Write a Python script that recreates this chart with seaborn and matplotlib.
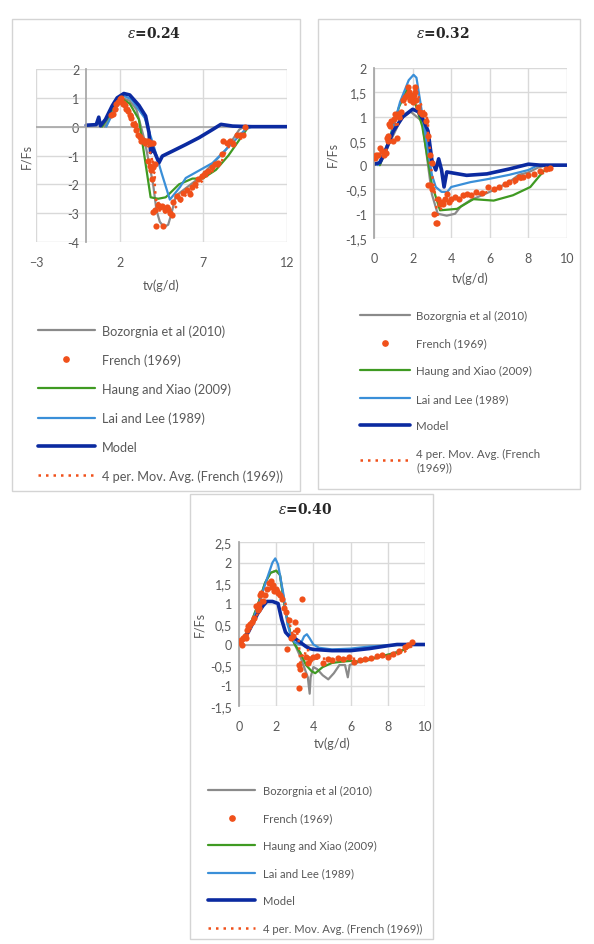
import numpy as np
import pandas as pd
import seaborn as sns
import matplotlib
matplotlib.use("Agg")
import matplotlib.pyplot as plt
from matplotlib.lines import Line2D
from matplotlib.patches import Rectangle
from matplotlib.ticker import FuncFormatter

# ---------------- eps = 0.24 ----------------
t1_model = [0.0, 0.6, 0.75, 0.85, 1.15, 1.55, 1.85, 2.25, 2.6, 3.15, 3.55, 3.75, 3.85, 3.95, 4.35, 4.55,
            5.15, 5.95, 6.75, 7.55, 8.05, 8.75, 9.9, 12.0]
f1_model = [0.05, 0.07, 0.33, 0.03, 0.25, 0.72, 1.0, 1.15, 1.1, 0.74, 0.37, -0.2, -0.9, -0.7, -1.25, -1.02,
            -0.85, -0.62, -0.38, -0.1, 0.08, 0.02, 0.0, 0.0]
t1_green = [0.95, 1.4, 1.85, 2.1, 2.6, 3.15, 3.5, 3.85, 4.3, 4.75, 5.55, 6.35, 6.95, 7.75, 8.5, 9.1, 9.7]
f1_green = [0.0, 0.4, 0.95, 0.98, 0.8, 0.25, -1.1, -2.45, -2.5, -2.45, -2.0, -1.8, -1.8, -1.5, -1.0, -0.5, 0.0]
t1_lai = [1.2, 1.7, 2.2, 2.7, 3.5, 4.0, 4.5, 5.0, 5.6, 5.95, 7.55, 8.75, 9.5, 9.9, 12.0]
f1_lai = [0.0, 0.6, 1.08, 0.95, 0.3, -0.6, -1.6, -2.53, -2.1, -1.78, -1.26, -0.56, -0.1, 0.0, 0.0]
t1_boz = [1.1, 1.6, 2.1, 2.6, 3.0, 3.5, 4.0, 4.2, 4.4, 4.65, 4.9, 5.1, 5.35, 6.75, 8.35, 9.15, 9.45]
f1_boz = [0.0, 0.5, 1.0, 0.9, 0.6, -0.5, -2.0, -2.9, -3.3, -3.48, -3.4, -3.0, -2.4, -1.78, -0.8, -0.1, 0.0]
t1_french = [1.5, 1.6, 1.7, 1.8, 1.9, 2.0, 2.05, 2.1, 2.2, 2.3, 2.4, 2.5, 2.6, 2.7, 2.8, 2.9, 3.0, 3.1,
             3.2, 3.3, 3.4, 3.5, 3.6, 3.7, 3.8, 3.9, 4.0, 3.7, 3.8, 3.9, 4.0, 4.1, 3.95, 4.0, 4.1, 4.2,
             4.3, 4.4, 4.5, 4.6, 4.7, 4.8, 4.9, 5.0, 5.1, 5.2, 5.4, 5.6, 5.8, 6.0, 6.2, 6.3, 6.5, 6.7,
             6.9, 7.1, 7.3, 7.5, 7.7, 7.9, 8.1, 8.2, 8.4, 8.6, 8.8, 9.0, 9.2, 9.4, 9.5]
f1_french = [0.4, 0.45, 0.6, 0.8, 0.85, 0.95, 1.0, 0.9, 0.8, 0.75, 0.6, 0.55, 0.4, 0.3, 0.1, 0.05, -0.1,
             -0.3, -0.35, -0.5, -0.45, -0.55, -0.5, -0.5, -0.55, -0.55, -0.55, -1.2, -1.35, -1.5, -1.4,
             -1.3, -1.8, -2.95, -2.9, -3.45, -2.7, -2.8, -2.75, -3.45, -2.9, -2.8, -2.85, -3.0, -3.05,
             -2.6, -2.4, -2.5, -2.3, -2.2, -2.35, -2.1, -2.0, -1.8, -1.7, -1.6, -1.55, -1.4, -1.3,
             -1.25, -0.95, -0.5, -0.55, -0.5, -0.6, -0.3, -0.3, -0.3, 0.0]

# ---------------- eps = 0.32 ----------------
t2_model = [0.0, 0.3, 0.5, 1.0, 1.5, 2.0, 2.3, 2.6, 2.8, 3.0, 3.2, 3.35, 3.5, 3.63, 3.77, 4.8, 5.85,
            7.0, 8.0, 8.6, 10.0]
f2_model = [0.02, 0.05, 0.2, 0.7, 1.0, 1.15, 1.1, 0.9, 0.7, 0.1, -0.1, 0.13, -0.1, -0.45, -0.14, -0.21,
            -0.18, -0.08, 0.02, 0.0, 0.0]
t2_lai = [0.2, 0.83, 1.35, 1.8, 2.05, 2.2, 2.6, 3.0, 3.2, 3.5, 3.8, 4.0, 5.0, 6.0, 7.0, 8.0, 8.5, 10.0]
f2_lai = [0.0, 0.54, 1.3, 1.75, 1.86, 1.8, 0.8, -0.2, -0.45, -0.55, -0.55, -0.45, -0.35, -0.28, -0.2,
          -0.1, 0.0, 0.0]
t2_green = [0.3, 0.8, 1.3, 1.7, 2.0, 2.5, 3.0, 3.42, 4.3, 5.15, 6.2, 7.2, 8.1, 8.6, 9.1]
f2_green = [0.0, 0.55, 1.2, 1.55, 1.45, 0.8, -0.4, -0.93, -0.9, -0.7, -0.73, -0.62, -0.45, -0.21, 0.0]
t2_boz = [0.3, 0.8, 1.4, 1.9, 2.5, 3.0, 3.3, 3.77, 4.2, 4.5, 5.0, 6.0, 7.0, 7.5, 8.0, 8.5, 9.0]
f2_boz = [0.0, 0.45, 0.95, 1.1, 0.9, -0.6, -1.0, -1.04, -1.0, -0.85, -0.72, -0.55, -0.35, -0.2, -0.15,
          -0.05, 0.0]
t2_french = [0.05, 0.1, 0.2, 0.3, 0.4, 0.5, 0.6, 0.65, 0.7, 0.75, 0.8, 0.85, 0.9, 1.0, 1.05, 1.1, 1.2,
             1.25, 1.3, 1.4, 1.5, 1.6, 1.7, 1.75, 1.8, 1.85, 1.9, 2.0, 2.05, 2.1, 2.15, 2.2, 2.3, 2.4,
             2.5, 2.6, 2.7, 2.8, 2.9, 3.0, 2.8, 2.9, 3.0, 3.1, 3.2, 3.25, 3.3, 3.4, 3.5, 3.6, 3.7, 3.8,
             3.9, 4.0, 4.2, 4.4, 4.6, 4.8, 5.0, 5.3, 5.6, 5.9, 6.2, 6.5, 6.8, 7.0, 7.3, 7.5, 7.7, 8.0,
             8.3, 8.6, 8.9, 9.1]
f2_french = [0.15, 0.2, 0.2, 0.35, 0.3, 0.2, 0.25, 0.55, 0.6, 0.5, 0.85, 0.8, 0.9, 0.5, 0.95, 1.05, 0.55,
             1.05, 1.0, 1.1, 1.35, 1.4, 1.45, 1.6, 1.5, 1.35, 1.4, 1.3, 1.45, 1.6, 1.5, 1.35, 1.2, 1.1,
             1.05, 1.05, 0.9, 0.6, 0.2, 0.05, -0.4, -0.4, -0.5, -1.0, -1.2, -1.2, -0.7, -0.8, -0.75,
             -0.8, -0.7, -0.6, -0.75, -0.7, -0.65, -0.7, -0.62, -0.6, -0.62, -0.55, -0.58, -0.45, -0.5,
             -0.45, -0.38, -0.35, -0.3, -0.25, -0.25, -0.2, -0.18, -0.12, -0.08, -0.05]

# ---------------- eps = 0.40 ----------------
t3_model = [0.0, 0.5, 1.0, 1.3, 1.5, 1.8, 2.1, 2.3, 2.5, 2.7, 3.0, 3.3, 3.6, 3.8, 4.0, 5.0, 6.0, 7.0,
            8.0, 8.5, 9.0, 10.0]
f3_model = [0.0, 0.3, 0.75, 0.95, 1.05, 1.05, 1.0, 0.6, 0.3, 0.2, 0.15, 0.05, -0.05, -0.1, -0.12, -0.15,
            -0.15, -0.1, -0.03, 0.0, 0.0, 0.0]
t3_lai = [0.0, 0.5, 1.0, 1.5, 1.8, 1.95, 2.1, 2.4, 2.6, 2.8, 3.0, 3.3, 3.5, 3.65, 3.8, 4.0, 4.3, 5.0,
          6.0, 7.0, 8.0, 9.0, 10.0]
f3_lai = [0.0, 0.3, 0.9, 1.6, 2.0, 2.1, 1.95, 1.2, 0.5, 0.2, 0.05, 0.0, 0.2, 0.25, 0.15, 0.0, -0.08,
          -0.12, -0.1, -0.05, -0.02, 0.0, 0.0]
t3_green = [0.0, 0.5, 1.0, 1.4, 1.7, 2.0, 2.2, 2.5, 2.8, 3.0, 3.3, 3.6, 3.9, 4.1, 4.5, 5.0, 5.5, 6.0,
            6.5, 7.0, 7.5, 8.0, 8.5, 9.0, 9.3]
f3_green = [0.0, 0.35, 0.95, 1.5, 1.75, 1.8, 1.7, 0.8, 0.2, 0.0, -0.2, -0.5, -0.65, -0.7, -0.55, -0.45,
            -0.42, -0.4, -0.42, -0.38, -0.3, -0.25, -0.2, -0.1, 0.0]
t3_boz = [0.0, 0.5, 1.0, 1.4, 1.7, 2.0, 2.2, 2.5, 2.8, 3.0, 3.3, 3.5, 3.7, 3.8, 3.85, 4.0, 4.2, 4.5,
          4.8, 5.1, 5.4, 5.7, 5.85, 5.95, 6.5, 7.0, 8.0, 9.0, 9.3]
f3_boz = [0.0, 0.35, 0.95, 1.5, 1.75, 1.8, 1.7, 0.8, 0.2, 0.0, -0.3, -0.55, -0.8, -1.2, -0.8, -0.55,
          -0.6, -0.75, -0.85, -0.7, -0.5, -0.5, -0.8, -0.5, -0.42, -0.35, -0.25, -0.1, 0.0]
t3_french = [0.05, 0.1, 0.15, 0.2, 0.3, 0.4, 0.45, 0.5, 0.6, 0.7, 0.8, 0.9, 1.0, 1.05, 1.1, 1.15, 1.2,
             1.3, 1.4, 1.5, 1.6, 1.7, 1.8, 1.85, 1.9, 2.0, 2.1, 2.2, 2.3, 2.4, 2.5, 2.6, 2.7, 2.8, 2.9,
             3.0, 3.1, 3.2, 3.25, 3.3, 3.4, 3.5, 3.6, 3.7, 3.8, 4.0, 4.2, 4.5, 4.8, 5.0, 5.3, 5.6, 5.9,
             6.2, 6.5, 6.8, 7.1, 7.4, 7.7, 8.0, 8.3, 8.6, 8.9, 9.1, 9.3]
f3_french = [0.05, 0.1, 0.0, 0.15, 0.2, 0.15, 0.35, 0.45, 0.5, 0.55, 0.65, 0.95, 0.85, 1.0, 0.9, 1.2,
             1.25, 1.05, 1.2, 1.35, 1.5, 1.55, 1.4, 1.45, 1.3, 1.35, 1.25, 1.2, 1.1, 0.9, 0.8, -0.1,
             0.6, 0.15, 0.2, 0.55, 0.35, -0.5, -1.05, -0.6, 1.1, -0.75, -0.3, -0.45, -0.35, -0.3,
             -0.28, -0.45, -0.35, -0.38, -0.32, -0.35, -0.3, -0.42, -0.38, -0.35, -0.32, -0.28, -0.25,
             -0.3, -0.22, -0.15, -0.05, 0.0, 0.05]

labels = ["Bozorgnia et al (2010)", "French (1969)", "Haung and Xiao (2009)", "Lai and Lee (1989)",
          "Model", "4 per. Mov. Avg. (French (1969))"]

C_BOZ = "#8a8a8a"
C_FR = "#f0501a"
C_GR = "#3f9a22"
C_LAI = "#3a8fd8"
C_MOD = "#0b2aa0"
GRID = "#d9d9d9"
TXT = "#595959"

W, H = 594, 945

sns.set_theme(style="white")
plt.rcParams["font.family"] = ["Lato", "DejaVu Sans"]
plt.rcParams["mathtext.fontset"] = "dejavuserif"

fig = plt.figure(figsize=(W / 100, H / 100), dpi=100)
fig.patch.set_facecolor("white")


def px_axes(x0, y0, x1, y1):
    return fig.add_axes([x0 / W, 1 - y1 / H, (x1 - x0) / W, (y1 - y0) / H])


def box(x0, y0, x1, y1):
    fig.add_artist(Rectangle((x0 / W, 1 - y1 / H), (x1 - x0) / W, (y1 - y0) / H,
                             transform=fig.transFigure, fill=False, ec="#d4d4d4", lw=1))


comma = FuncFormatter(lambda v, p: ("%g" % v).replace(".", ","))


def panel(ax, tb, fb, tf, ff, tg, fg, tl, fl, tm, fm, xlim, xticks, ylim, yticks):
    sns.lineplot(x=tb, y=fb, ax=ax, color=C_BOZ, lw=1.6, sort=False, estimator=None)
    sns.lineplot(x=tg, y=fg, ax=ax, color=C_GR, lw=1.6, sort=False, estimator=None)
    sns.lineplot(x=tl, y=fl, ax=ax, color=C_LAI, lw=1.6, sort=False, estimator=None)
    sns.lineplot(x=tm, y=fm, ax=ax, color=C_MOD, lw=2.6, sort=False, estimator=None)
    sns.scatterplot(x=tf, y=ff, ax=ax, color=C_FR, s=20, linewidth=0, zorder=5)
    fr = pd.DataFrame({"t": tf, "f": ff}).sort_values("t", kind="stable")
    avg = fr["f"].rolling(4).mean()
    ax.plot(fr["t"], avg, color=C_FR, lw=1.8, ls=(0, (1, 2)), zorder=6)
    ax.set_xlim(*xlim)
    ax.set_ylim(*ylim)
    ax.set_xticks(xticks)
    ax.set_yticks(yticks)
    ax.yaxis.set_major_formatter(comma)
    ax.grid(True, color=GRID, lw=1)
    ax.set_axisbelow(True)
    for s in ["top", "right", "bottom"]:
        ax.spines[s].set_visible(False)
    ax.spines["left"].set_position(("data", 0))
    ax.spines["left"].set_color("#a6a6a6")
    ax.axhline(0, color="#a6a6a6", lw=1.2, zorder=1)
    ax.tick_params(length=0, labelsize=9, labelcolor=TXT)
    ax.tick_params(axis="x", pad=10)
    ax.tick_params(axis="y", pad=5)
    ax.set_xlabel("tv(g/d)", fontsize=9, color=TXT)
    ax.set_ylabel("F/Fs", fontsize=9, color=TXT)


def legend(x, y, lab, fs, lh, ls, tp):
    hs = [Line2D([], [], color=C_BOZ, lw=1.6),
          Line2D([], [], color=C_FR, marker="o", ls="none", ms=3.8),
          Line2D([], [], color=C_GR, lw=1.6),
          Line2D([], [], color=C_LAI, lw=1.6),
          Line2D([], [], color=C_MOD, lw=2.6),
          Line2D([], [], color=C_FR, lw=1.8, ls=(0, (1, 2)))]
    lg = fig.legend(hs, lab, loc="upper left", bbox_to_anchor=(x / W, 1 - y / H), frameon=False,
                    fontsize=fs, handlelength=lh, handletextpad=tp, labelspacing=ls,
                    borderpad=0, borderaxespad=0)
    for t in lg.get_texts():
        t.set_color(TXT)


# panel 1
box(12, 20, 300, 492)
ax1 = px_axes(36, 70, 287, 243)
panel(ax1, t1_boz, f1_boz, t1_french, f1_french, t1_green, f1_green, t1_lai, f1_lai, t1_model, f1_model,
      (-3, 12), [-3, 2, 7, 12], (-4, 2), [-4, -3, -2, -1, 0, 1, 2])
ax1.yaxis.set_label_coords(-0.016, 0.5)
ax1.xaxis.set_label_coords(0.5, -0.208)
fig.text(154 / W, 1 - 34 / H, r"$\varepsilon$=0.24", ha="center", va="center",
         fontsize=10, fontweight="bold", family="DejaVu Serif")
legend(38, 325, labels, 9.2, 4.45, 1.30, 0.55)

# panel 2
box(318, 20, 580, 490)
ax2 = px_axes(374, 69, 567, 239)
panel(ax2, t2_boz, f2_boz, t2_french, f2_french, t2_green, f2_green, t2_lai, f2_lai, t2_model, f2_model,
      (0, 10), [0, 2, 4, 6, 8, 10], (-1.5, 2), [-1.5, -1, -0.5, 0, 0.5, 1, 1.5, 2])
ax2.yaxis.set_label_coords(-0.185, 0.5)
ax2.xaxis.set_label_coords(0.5, -0.194)
fig.text(443 / W, 1 - 34 / H, r"$\varepsilon$=0.32", ha="center", va="center",
         fontsize=10, fontweight="bold", family="DejaVu Serif")
lab2 = labels[:5] + ["4 per. Mov. Avg. (French\n(1969))"]
legend(360, 311, lab2, 8.3, 4.35, 1.44, 0.52)

# panel 3
box(190, 495, 433, 940)
ax3 = px_axes(239, 543, 425, 707)
panel(ax3, t3_boz, f3_boz, t3_french, f3_french, t3_green, f3_green, t3_lai, f3_lai, t3_model, f3_model,
      (0, 10), [0, 2, 4, 6, 8, 10], (-1.5, 2.5), [-1.5, -1, -0.5, 0, 0.5, 1, 1.5, 2, 2.5])
ax3.yaxis.set_label_coords(-0.183, 0.5)
ax3.xaxis.set_label_coords(0.5, -0.183)
fig.text(305 / W, 1 - 509 / H, r"$\varepsilon$=0.40", ha="center", va="center",
         fontsize=10, fontweight="bold", family="DejaVu Serif")
legend(208, 786, labels, 8.1, 4.2, 1.47, 0.7)

fig.savefig("out.png", dpi=100)
